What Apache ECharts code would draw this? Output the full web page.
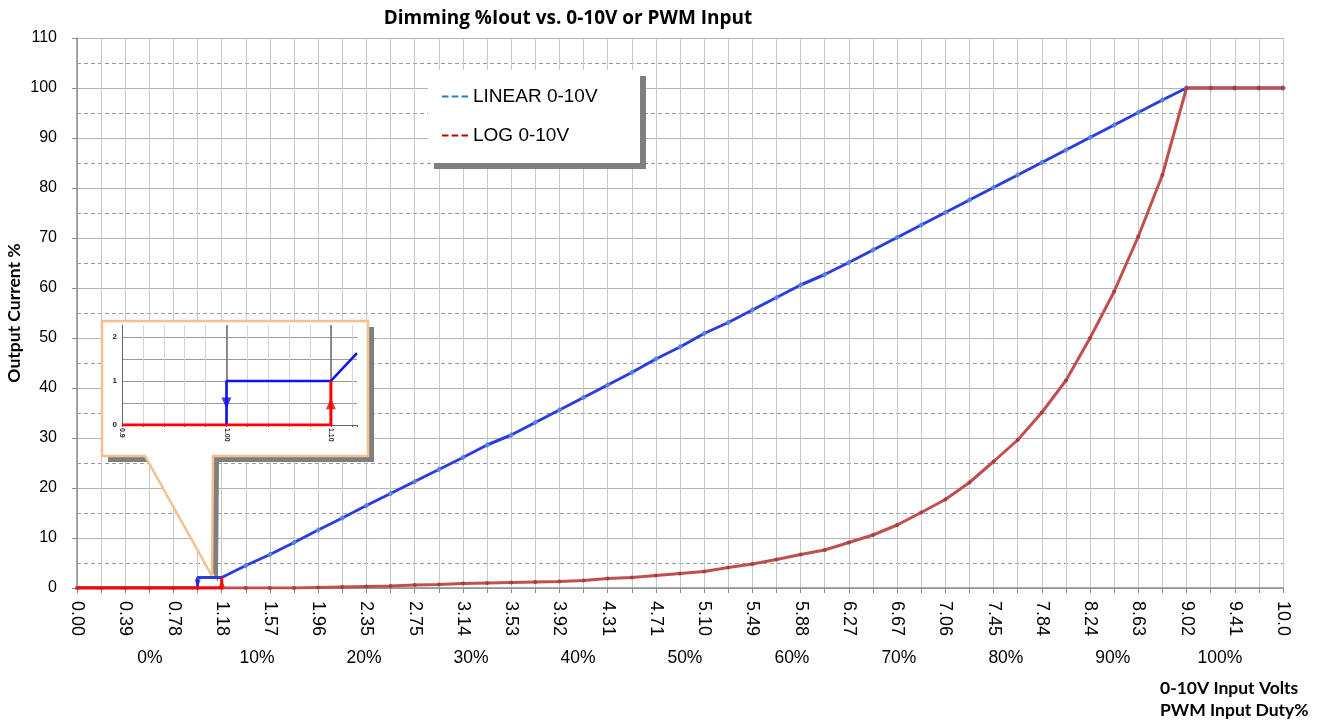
<!DOCTYPE html>
<html><head><meta charset="utf-8">
<script src="https://cdn.jsdelivr.net/npm/echarts@6/dist/echarts.min.js"></script>
<style>html,body{margin:0;padding:0;background:#fff}#c{width:1328px;height:720px}</style>
</head><body><div id="c"></div>
<script>
// ---- data ----
const voltTickLabels = ['0.00','0.39','0.78','1.18','1.57','1.96','2.35','2.75','3.14','3.53','3.92','4.31','4.71','5.10','5.49','5.88','6.27','6.67','7.06','7.45','7.84','8.24','8.63','9.02','9.41','10.0'];
const dutyValues = [0,10,20,30,40,50,60,70,80,90,100];
const linearIdx = [0,1,2,3,4,5,5,6,7,8,9,10,11,12,13,14,15,16,17,18,19,20,21,22,23,24,25,26,27,28,29,30,31,32,33,34,35,36,37,38,39,40,41,42,43,44,45,46,47,48,49,50];
const linearVal = [0,0,0,0,0,0,2.1,2.1,4.5,6.7,9.1,11.6,14.0,16.5,18.9,21.3,23.7,26.1,28.6,30.6,33.1,35.6,38.1,40.6,43.1,45.8,48.2,50.9,53.1,55.6,58.1,60.6,62.7,65.1,67.6,70.1,72.6,75.1,77.6,80.1,82.6,85.1,87.6,90.1,92.6,95.1,97.6,100,100,100,100,100];
const logVal = [0,0,0,0,0,0,0,0,0,0,0.1,0.2,0.3,0.4,0.6,0.7,0.9,1.0,1.1,1.2,1.3,1.5,1.9,2.1,2.5,2.9,3.3,4.1,4.8,5.7,6.7,7.6,9.1,10.6,12.6,15.1,17.7,21.1,25.3,29.6,35.1,41.5,50.0,59.3,70.3,82.6,100,100,100,100,100];
const lowLogIdx = [0,6,6];
const lowLogVal = [0,0,2.1];
const mainArrowDown = [5, 0.9];
const mainArrowUp = [6, 1.0];
// inset (zoom of 0.9 .. 1.12 V)
const insetLinearX = [1.00,1.00,1.10,1.125];
const insetLinearY = [0,1,1,1.63];
const insetLogX = [0.9,1.10,1.10];
const insetLogY = [0,0,1];
const insetArrowDown = [1.00,0.5];
const insetArrowUp = [1.10,0.48];
const insetTickValues = [0.9,1.0,1.1];
const insetTickLabels = ['0.9','1.00','1.10'];
const insetMarkX = [1.0,1.1];

const linearData = linearIdx.map((x,i)=>({value:[x,linearVal[i]], symbolSize: x<=6?0:6}));
const logData = logVal.map((v,i)=>[i,v]);
const lowLogData = lowLogIdx.map((x,i)=>[x,lowLogVal[i]]);

const callout = [[102,321],[368,321],[368,456],[213,456],[212,576],[145,456],[102,456]];
const calloutShadow = callout.map(p=>[p[0]+6,p[1]+6]);

const numFont = '"Liberation Sans", Arial, sans-serif';
const boldFont = 'Lato, "Open Sans", sans-serif';

const chart = echarts.init(document.getElementById('c'));
chart.setOption({
  animation:false,
  backgroundColor:'#fff',
  title:{text:'Dimming %Iout vs. 0-10V or PWM Input', left:563, top:4, textAlign:'center',
    textStyle:{fontFamily:'"Open Sans", sans-serif', fontWeight:'bold', fontSize:19, color:'#000'}},
  legend:{
    orient:'vertical', left:428, top:71, padding:[16,30,16,14], itemGap:20,
    itemWidth:26, itemHeight:3, z:5,
    icon:'path://M0,0H6V2H0Z M9,0H15V2H9Z M18,0H24V2H18Z',
    textStyle:{fontFamily:numFont, fontSize:19, color:'#000'},
    data:[{name:'LINEAR 0-10V', itemStyle:{color:'#1f7fc8'}},{name:'LOG 0-10V', itemStyle:{color:'#c00000'}}]
  },
  grid:[
    {left:77, right:45, top:38, bottom:132, outerBoundsMode:'none', containLabel:false},
    {left:122, top:325, width:235, height:100, outerBoundsMode:'none', containLabel:false}
  ],
  xAxis:[
    {gridIndex:0, type:'value', min:0, max:50, interval:1, z:0,
      axisLine:{show:true, lineStyle:{color:'#8c8c8c', width:1.5}},
      axisTick:{show:true, length:5, lineStyle:{color:'#8c8c8c'}},
      axisLabel:{customValues: voltTickLabels.map((_,k)=>2*k), formatter:v=>voltTickLabels[Math.round(v/2)],
        rotate:-90, margin:13, fontFamily:numFont, fontSize:18, color:'#000'},
      splitLine:{show:true, lineStyle:{color:'#c8c8c8', width:1}}
    },
    {gridIndex:0, type:'value', position:'bottom', offset:56, min:-6.82, max:105.9,
      axisLine:{show:false}, axisTick:{show:false}, splitLine:{show:false},
      axisLabel:{customValues: dutyValues, formatter:'{value}%', margin:5, fontFamily:numFont, fontSize:17.5, color:'#000'}
    },
    {gridIndex:1, type:'value', min:0.9, max:1.125, interval:0.02, z:3,
      axisLine:{show:true, lineStyle:{color:'#666'}},
      axisTick:{show:true, length:2, lineStyle:{color:'#555'}},
      axisLabel:{customValues: insetTickValues,
        formatter:v=>{const k=insetTickValues.findIndex(t=>Math.abs(t-v)<1e-6);return k<0?'':insetTickLabels[k];},
        rotate:-90, margin:3, fontFamily:numFont, fontWeight:'bold', fontSize:7, color:'#222'},
      splitLine:{show:true, showMaxLine:false, lineStyle:{color:'#d4d4d4'}}
    }
  ],
  yAxis:[
    {gridIndex:0, type:'value', min:0, max:110, interval:10, z:0,
      name:'Output Current %', nameLocation:'middle', nameGap:54, nameMoveOverlap:false,
      nameTextStyle:{fontFamily:boldFont, fontWeight:'bold', fontSize:17.5, color:'#000'},
      axisLine:{show:true, lineStyle:{color:'#8c8c8c', width:1.5}},
      axisTick:{show:true, length:5, lineStyle:{color:'#8c8c8c'}},
      axisLabel:{margin:20, fontFamily:numFont, fontSize:16, color:'#000'},
      splitLine:{show:true, lineStyle:{color:'#b4b4b4', width:1}},
      minorTick:{show:false, splitNumber:2},
      minorSplitLine:{show:true, lineStyle:{color:'#9a9a9a', width:1, type:[4,3]}}
    },
    {gridIndex:1, type:'value', min:0, max:2.27, interval:0.5, z:3,
      axisLine:{show:true, lineStyle:{color:'#666'}},
      axisTick:{show:false},
      axisLabel:{formatter:v=>(Math.abs(v-Math.round(v))<1e-6?String(Math.round(v)):''), margin:5,
        fontFamily:numFont, fontWeight:'bold', fontSize:8, color:'#222'},
      splitLine:{show:true, showMaxLine:false, lineStyle:{color:'#9a9a9a'}}
    }
  ],
  series:[
    {name:'LINEAR 0-10V', type:'line', xAxisIndex:0, yAxisIndex:0, data:linearData, z:2,
      symbol:'diamond', symbolSize:6, lineStyle:{color:'#2a3ee0', width:3},
      itemStyle:{color:'#5a86d6'}},
    {name:'LOG 0-10V', type:'line', xAxisIndex:0, yAxisIndex:0, data:logData, z:3,
      symbol:'circle', symbolSize:4, lineStyle:{color:'#c0504d', width:3},
      itemStyle:{color:'#a63c48'}},
    {name:'lowLog', type:'line', xAxisIndex:0, yAxisIndex:0, data:lowLogData, z:4,
      symbol:'none', lineStyle:{color:'#ff0000', width:3}},
    {name:'arrowsMain', type:'scatter', xAxisIndex:0, yAxisIndex:0, z:5,
      data:[{value:mainArrowDown, symbolRotate:180, itemStyle:{color:'#1a22e8'}},
            {value:mainArrowUp, itemStyle:{color:'#ff0000'}}],
      symbol:'triangle', symbolSize:[6,8]},
    {name:'insetLinear', type:'line', xAxisIndex:2, yAxisIndex:1, z:6,
      data:insetLinearX.map((x,i)=>[x,insetLinearY[i]]), symbol:'none',
      lineStyle:{color:'#1010f0', width:2.5},
      markLine:{silent:true, symbol:'none', label:{show:false}, z:4,
        lineStyle:{color:'#6a6a6a', width:1.5, type:'solid'},
        data:insetMarkX.map(x=>({xAxis:x}))}},
    {name:'insetLog', type:'line', xAxisIndex:2, yAxisIndex:1, z:7,
      data:insetLogX.map((x,i)=>[x,insetLogY[i]]), symbol:'none',
      lineStyle:{color:'#ff0000', width:3}},
    {name:'arrowsInset', type:'scatter', xAxisIndex:2, yAxisIndex:1, z:8,
      data:[{value:insetArrowDown, symbolRotate:180, itemStyle:{color:'#1010f0'}},
            {value:insetArrowUp, itemStyle:{color:'#ff0000'}}],
      symbol:'triangle', symbolSize:[10,11]}
  ],
  graphic:[
    {type:'rect', z:1, shape:{x:434,y:76,width:212,height:93}, style:{fill:'#7f7f7f'}},
    {type:'rect', z:1, shape:{x:428,y:70,width:212,height:93}, style:{fill:'#fff'}},
    {type:'polygon', z:1, shape:{points:calloutShadow}, style:{fill:'#7f7f7f'}},
    {type:'polygon', z:1, shape:{points:callout}, style:{fill:'#fff', stroke:'#f6c08e', lineWidth:2.5}},
    {type:'text', z:5, x:1160, y:677, style:{text:'0-10V Input Volts\nPWM Input Duty%',
      font:'bold 17.5px Lato, "Open Sans", sans-serif', lineHeight:22, fill:'#000'}}
  ]
});
</script></body></html>
